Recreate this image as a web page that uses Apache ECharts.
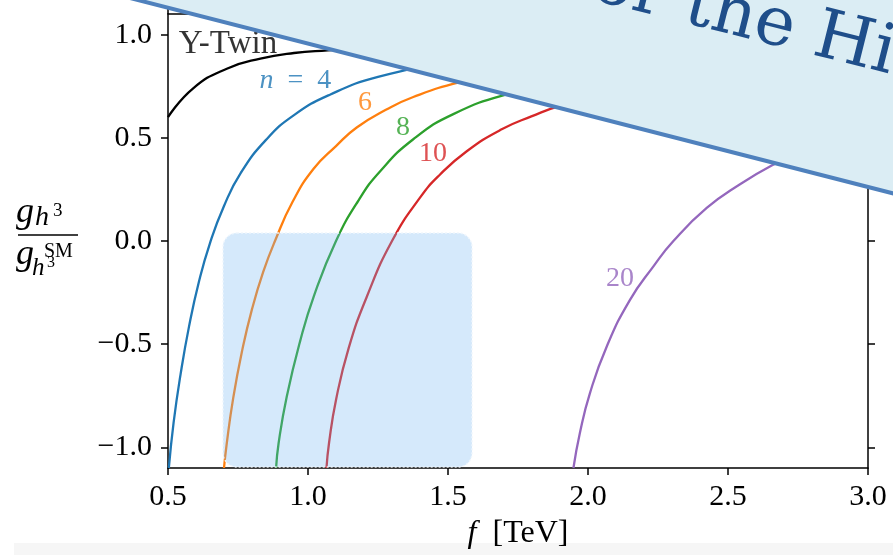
<!DOCTYPE html>
<html>
<head>
<meta charset="utf-8">
<title>g_h3 / g_h3^SM vs f</title>
<script src="https://cdn.jsdelivr.net/npm/echarts@6/dist/echarts.min.js"></script>
<style>
    html, body { margin: 0; padding: 0; background: #fff; }
    #main { width: 893px; height: 555px; }
</style>
</head>
<body>
<div id="main"></div>
<script>
// axis ticks
var xTicks = [0.5, 1.0, 1.5, 2.0, 2.5, 3.0];
var yTicks = [-1.0, -0.5, 0.0, 0.5, 1.0];

// curves: f [TeV] and ratio
var twinF = [0.5, 0.59, 0.71, 0.83, 0.95, 1.07, 1.3, 1.6, 2.0, 2.5, 3.0];
var twinK = [0.60, 0.74, 0.835, 0.884, 0.911, 0.924, 0.945, 0.96, 0.975, 0.984, 0.99];

var n4F = [0.503, 0.52, 0.545, 0.575, 0.61, 0.65, 0.70, 0.76, 0.85, 0.95, 1.08, 1.25, 1.5, 1.9, 2.4, 3.0];
var n4K = [-1.1, -0.88, -0.645, -0.415, -0.2, -0.01, 0.17, 0.33, 0.49, 0.61, 0.71, 0.795, 0.86, 0.915, 0.95, 0.97];

var n6F = [0.70, 0.709, 0.733, 0.765, 0.80, 0.84, 0.882, 0.945, 1.02, 1.10, 1.174, 1.28, 1.376, 1.543, 1.8, 2.2, 2.6, 3.0];
var n6K = [-1.1, -0.99, -0.76, -0.53, -0.33, -0.15, 0.0, 0.19, 0.35, 0.46, 0.55, 0.637, 0.698, 0.77, 0.842, 0.90, 0.93, 0.95];

var n8F = [0.886, 0.895, 0.924, 0.971, 1.021, 1.10, 1.18, 1.257, 1.376, 1.519, 1.721, 2.0, 2.5, 3.0];
var n8K = [-1.1, -0.98, -0.755, -0.49, -0.267, 0.0, 0.196, 0.337, 0.493, 0.615, 0.715, 0.80, 0.88, 0.92];

var n10F = [1.066, 1.075, 1.10, 1.145, 1.21, 1.30, 1.40, 1.47, 1.567, 1.69, 1.80, 1.90, 2.2, 2.6, 3.0];
var n10K = [-1.1, -0.98, -0.77, -0.52, -0.27, 0.0, 0.21, 0.32, 0.435, 0.54, 0.605, 0.655, 0.76, 0.83, 0.87];

var n20F = [1.948, 1.971, 2.007, 2.067, 2.15, 2.233, 2.305, 2.424, 2.543, 2.662, 2.8, 3.0];
var n20K = [-1.1, -0.93, -0.737, -0.511, -0.285, -0.124, 0.0, 0.16, 0.275, 0.37, 0.46, 0.56];

var curveLabels = ['Y-Twin', '{i|n}  =  4', '6', '8', '10', '20'];

function pairs(xs, ys) {
    var out = [];
    for (var i = 0; i < xs.length; i++) out.push([xs[i], ys[i]]);
    return out;
}

var chart = echarts.init(document.getElementById('main'));

var serif = 'Liberation Serif';
var colors = ['#000000', '#1f77b4', '#ff7f0e', '#2ca02c', '#d62728', '#9467bd'];
var curves = [pairs(twinF, twinK), pairs(n4F, n4K), pairs(n6F, n6K),
              pairs(n8F, n8K), pairs(n10F, n10K), pairs(n20F, n20K)];
// where each curve's label sits (data coords)
var labelAt = [[0.714, 0.955], [0.955, 0.775], [1.204, 0.67], [1.339, 0.55], [1.446, 0.425], [2.114, -0.18]];

var series = [];
curves.forEach(function (d, i) {
    series.push({
        type: 'line',
        data: d,
        smooth: 0.5,
        symbol: 'none',
        lineStyle: { color: colors[i], width: 2.3 },
        z: 3
    });
    series.push({
        type: 'scatter',
        data: [labelAt[i]],
        symbolSize: 1,
        itemStyle: { color: 'rgba(0,0,0,0)' },
        silent: true,
        label: {
            show: true,
            position: 'inside',
            formatter: curveLabels[i],
            color: colors[i],
            fontFamily: serif,
            fontSize: i === 0 ? 33 : 28,
            rich: { i: { fontStyle: 'italic', fontFamily: serif, fontSize: 28, color: colors[i] } }
        },
        z: 4
    });
});

function fmt(v) {
    return v.toFixed(1).replace('-', '\u2212');
}

var axisLine = { onZero: false, lineStyle: { color: '#000', width: 1.5 } };
var tick = { length: 7, lineStyle: { color: '#000', width: 1.5 } };

// y label: g_{h^3} / g_{h^3}^{SM}
function t(txt, x, y, size, italic) {
    return {
        type: 'text', x: x, y: y, z: 5,
        style: {
            text: txt, fill: '#000', font: (italic ? 'italic ' : '') + size + 'px "' + serif + '"',
            textAlign: 'left', textVerticalAlign: 'bottom'
        }
    };
}

var option = {
    animation: false,
    backgroundColor: '#fff',
    grid: { left: 168, right: 25, top: 14, bottom: 87 },
    xAxis: [{
        type: 'value', min: 0.5, max: 3.0, interval: 0.5,
        axisLine: axisLine, axisTick: tick, splitLine: { show: false },
        axisLabel: { formatter: fmt, color: '#000', fontFamily: serif, fontSize: 30, margin: 14 },
        name: '{i|f}  [TeV]', nameLocation: 'middle', nameGap: 50,
        nameTextStyle: { color: '#000', fontFamily: serif, fontSize: 32,
            rich: { i: { fontStyle: 'italic', fontFamily: serif, fontSize: 32, color: '#000' } } }
    }, {
        type: 'value', position: 'top', min: 0.5, max: 3.0, interval: 0.5,
        axisLine: axisLine, axisTick: tick, axisLabel: { show: false }, splitLine: { show: false }
    }],
    yAxis: [{
        type: 'value', min: -1.1, max: 1.1,
        axisLine: axisLine,
        axisTick: { length: 7, lineStyle: { color: '#000', width: 1.5 }, customValues: yTicks },
        splitLine: { show: false },
        axisLabel: { customValues: yTicks, formatter: fmt, color: '#000', fontFamily: serif, fontSize: 30, margin: 16 }
    }, {
        type: 'value', position: 'right', min: -1.1, max: 1.1,
        axisLine: axisLine,
        axisTick: { length: 7, lineStyle: { color: '#000', width: 1.5 }, customValues: yTicks },
        axisLabel: { show: false }, splitLine: { show: false }
    }],
    series: series,
    graphic: [
        // faint strip at the bottom of the slide
        { type: 'rect', z: -1, shape: { x: 14, y: 543, width: 879, height: 12 }, style: { fill: '#f6f6f6' } },
        // y axis label
        t('g', 16, 231, 36, true),
        t('h', 35, 232, 28, true),
        t('3', 53, 221, 19, false),
        { type: 'line', z: 5, shape: { x1: 18, y1: 235, x2: 78, y2: 235 }, style: { stroke: '#000', lineWidth: 1.5 } },
        t('g', 16, 273, 36, true),
        t('SM', 44, 262, 20, false),
        t('h', 32, 281, 25, true),
        t('3', 47, 271, 16, false),
        // highlight box
        {
            type: 'rect', z: 50,
            shape: { x: 223, y: 233, width: 249, height: 234, r: 14 },
            style: { fill: 'rgba(115,182,242,0.3)', stroke: 'rgba(240,246,253,0.9)', lineWidth: 1.5, lineDash: [2, 2] }
        },
        // slide title banner across the top right
        {
            type: 'polygon', z: 100,
            shape: { points: [[130, -2], [905, 196.4], [905, -40], [100, -40]] },
            style: { fill: '#dbedf4', stroke: '#4f81bd', lineWidth: 4 }
        },
        {
            type: 'group', z: 101, x: 681, y: 25, rotation: -14 * Math.PI / 180,
            children: [{
                type: 'text', z: 101,
                style: { text: 'the Higgs', x: 0, y: 13, fill: '#1f4e8a',
                    font: '68px "DejaVu Serif"', textAlign: 'left', textVerticalAlign: 'bottom' }
            }, {
                type: 'text', z: 101,
                style: { text: 'Prospects for ', x: 0, y: 13, fill: '#1f4e8a',
                    font: '68px "DejaVu Serif"', textAlign: 'right', textVerticalAlign: 'bottom' }
            }]
        }
    ]
};
chart.setOption(option);
</script>
</body>
</html>
